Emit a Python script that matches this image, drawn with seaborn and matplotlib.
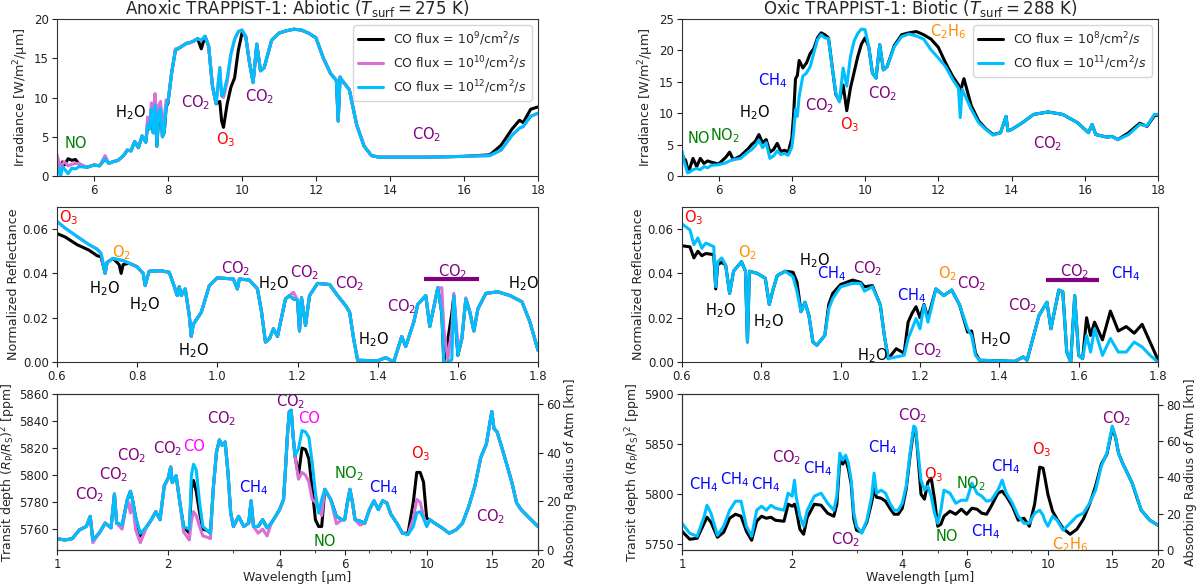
import matplotlib
matplotlib.use("Agg")
import matplotlib.pyplot as plt
from matplotlib.ticker import NullFormatter
import seaborn as sns

# ---------------- data ----------------
# top-left: anoxic emission spectrum, irradiance
ir_ax_wl = [5.0, 5.05, 5.1, 5.15, 5.2, 5.3, 5.4, 5.5, 5.6, 5.8,
            6.0, 6.15, 6.3, 6.4, 6.5, 6.65, 6.8, 6.9, 7.0, 7.1,
            7.2, 7.3, 7.4, 7.45, 7.5, 7.55, 7.6, 7.65, 7.7, 7.75,
            7.8, 7.85, 7.9, 7.95, 8.0, 8.1, 8.2, 8.3, 8.4, 8.5,
            8.6, 8.7, 8.8, 8.9, 9.0, 9.1, 9.2, 9.3, 9.4, 9.45,
            9.5, 9.6, 9.7, 9.8, 9.9, 10.0, 10.1, 10.2, 10.3, 10.4,
            10.5, 10.6, 10.8, 11.0, 11.2, 11.4, 11.6, 11.8, 12.0, 12.2,
            12.4, 12.55, 12.6, 12.65, 12.7, 12.9, 13.1, 13.3, 13.5, 13.7,
            14.0, 15.0, 16.0, 16.7, 17.0, 17.3, 17.5, 17.6, 17.8, 18.0]
ir_ax_co9 = [2.3, 1.6, 1.0, 1.8, 1.4, 2.2, 2.0, 2.1, 1.5, 1.1,
             1.4, 1.3, 2.2, 1.6, 1.8, 2.0, 2.6, 3.3, 3.2, 4.4,
             3.6, 5.1, 4.3, 6.5, 6.0, 8.5, 5.5, 9.0, 3.8, 7.8,
             8.6, 5.0, 5.6, 8.8, 9.3, 13.2, 16.0, 16.3, 16.6, 16.9,
             17.0, 17.2, 17.5, 16.2, 17.8, 16.5, 11.5, 9.2, 9.5, 7.0,
             6.2, 9.2, 11.3, 12.5, 16.0, 18.2, 17.8, 14.5, 11.9, 16.8,
             13.4, 13.8, 17.3, 18.2, 18.5, 18.7, 18.6, 18.2, 17.6, 15.0,
             13.0, 12.2, 7.0, 12.6, 12.2, 11.0, 6.5, 3.8, 2.6, 2.4,
             2.4, 2.4, 2.5, 2.7, 3.9, 6.0, 7.1, 6.8, 8.5, 8.8]
ir_ax_co10 = [2.7, 1.8, 0.6, 1.6, 1.8, 1.3, 1.5, 1.6, 1.6, 1.1,
              1.4, 1.3, 2.6, 1.6, 1.8, 2.0, 2.6, 3.3, 3.2, 4.4,
              3.6, 5.1, 4.3, 7.5, 6.0, 9.3, 8.0, 10.5, 6.0, 9.0,
              9.5, 5.0, 7.5, 9.7, 9.5, 13.2, 16.2, 16.3, 16.6, 16.9,
              17.0, 17.2, 17.5, 17.3, 17.8, 16.5, 11.5, 9.2, 13.8, 10.2,
              10.0, 12.0, 15.5, 17.4, 18.4, 18.6, 17.8, 14.5, 11.9, 16.8,
              13.4, 13.8, 17.3, 18.2, 18.5, 18.7, 18.6, 18.2, 17.6, 15.0,
              13.0, 12.2, 7.0, 12.6, 12.2, 11.0, 6.5, 3.8, 2.6, 2.4,
              2.4, 2.4, 2.5, 2.6, 3.3, 5.2, 6.1, 6.3, 7.6, 8.0]
ir_ax_co12 = [1.5, 0.4, 0.0, 1.2, 0.9, 0.3, 1.0, 0.9, 1.2, 1.1,
              1.4, 1.3, 2.2, 1.6, 1.8, 2.0, 2.6, 3.3, 3.2, 4.4,
              3.6, 5.1, 4.3, 6.5, 6.0, 8.5, 5.5, 9.0, 3.8, 7.8,
              8.6, 5.0, 5.6, 8.8, 9.5, 13.2, 16.0, 16.3, 16.6, 16.9,
              17.0, 17.2, 17.5, 17.3, 17.8, 16.5, 11.5, 9.2, 13.8, 10.2,
              10.5, 12.5, 15.5, 17.4, 18.4, 18.6, 17.8, 14.5, 11.9, 16.8,
              13.4, 13.8, 17.3, 18.2, 18.5, 18.7, 18.6, 18.2, 17.6, 15.0,
              13.0, 12.2, 7.0, 12.6, 12.2, 11.0, 6.5, 3.8, 2.6, 2.4,
              2.4, 2.4, 2.5, 2.6, 3.3, 5.2, 6.1, 6.3, 7.6, 8.0]

# top-right: oxic emission spectrum, irradiance
ir_ox_wl = [5.0, 5.05, 5.1, 5.15, 5.2, 5.3, 5.4, 5.5, 5.6, 5.7,
            5.8, 6.0, 6.2, 6.3, 6.4, 6.6, 6.8, 6.9, 7.0, 7.1,
            7.2, 7.3, 7.4, 7.5, 7.6, 7.7, 7.8, 7.9, 8.0, 8.05,
            8.1, 8.15, 8.2, 8.3, 8.4, 8.5, 8.6, 8.7, 8.8, 8.9,
            9.0, 9.1, 9.2, 9.3, 9.4, 9.5, 9.6, 9.7, 9.8, 9.9,
            10.0, 10.1, 10.2, 10.3, 10.4, 10.5, 10.6, 10.8, 11.0, 11.2,
            11.4, 11.6, 11.8, 12.0, 12.2, 12.4, 12.55, 12.6, 12.65, 12.7,
            12.9, 13.1, 13.3, 13.5, 13.7, 13.85, 13.9, 14.0, 14.3, 14.6,
            15.0, 15.4, 15.8, 16.1, 16.2, 16.3, 16.6, 16.75, 16.9, 17.2,
            17.5, 17.7, 17.9, 18.0]
ir_ox_co8 = [3.5, 2.8, 2.5, 1.2, 1.0, 2.8, 1.5, 2.8, 2.0, 2.4,
             2.2, 1.9, 3.0, 3.8, 2.6, 3.2, 4.3, 5.0, 5.5, 6.6,
             5.3, 5.8, 3.8, 4.2, 5.2, 3.9, 4.1, 3.8, 6.0, 10.0,
             15.5, 16.0, 18.4, 17.2, 18.0, 19.5, 20.3, 22.0, 22.8, 22.5,
             22.0, 17.5, 13.0, 12.0, 14.5, 10.4, 14.0, 16.5, 19.0, 21.0,
             22.0, 20.6, 16.4, 15.6, 20.9, 16.9, 17.4, 20.8, 22.5, 22.8,
             23.0, 22.5, 21.8, 20.5, 18.0, 15.8, 14.5, 13.0, 14.5, 15.5,
             11.2, 8.8, 7.5, 6.6, 6.9, 9.5, 7.2, 7.4, 8.5, 9.8,
             10.2, 9.8, 8.5, 6.9, 8.2, 6.6, 6.2, 6.3, 5.8, 6.9,
             8.4, 7.9, 9.6, 9.7]
ir_ox_co11 = [4.0, 2.5, 1.5, 0.5, 0.6, 1.0, 1.2, 1.0, 1.5, 1.3,
              1.7, 1.8, 2.1, 2.4, 2.6, 2.8, 3.8, 4.2, 4.8, 5.7,
              4.5, 5.3, 2.8, 3.2, 4.0, 3.4, 3.6, 3.3, 4.6, 7.0,
              10.6, 9.5, 12.7, 15.9, 16.4, 17.4, 19.6, 21.7, 22.5, 22.0,
              21.9, 17.4, 13.2, 11.8, 17.2, 14.3, 19.0, 21.5, 22.7, 23.4,
              23.3, 20.6, 16.4, 15.6, 20.9, 16.9, 17.4, 20.6, 22.2, 22.6,
              22.3, 21.8, 20.1, 18.8, 17.4, 15.3, 14.0, 9.3, 13.8, 13.2,
              10.6, 8.5, 7.4, 6.5, 6.9, 9.5, 7.2, 7.4, 8.5, 9.8,
              10.2, 9.8, 8.5, 6.9, 8.2, 6.6, 6.2, 6.3, 5.8, 6.6,
              8.2, 8.0, 9.8, 9.8]

# middle-left: anoxic reflectance
rf_ax_wl = [0.60, 0.62, 0.65, 0.68, 0.70, 0.71, 0.72, 0.725, 0.74, 0.755,
            0.76, 0.765, 0.78, 0.80, 0.815, 0.82, 0.825, 0.83, 0.86, 0.88,
            0.89, 0.90, 0.905, 0.91, 0.92, 0.93, 0.935, 0.94, 0.96, 0.98,
            1.00, 1.04, 1.05, 1.055, 1.08, 1.10, 1.11, 1.12, 1.13, 1.14,
            1.15, 1.17, 1.18, 1.19, 1.20, 1.205, 1.21, 1.22, 1.23, 1.25,
            1.28, 1.30, 1.32, 1.33, 1.34, 1.35, 1.40, 1.42, 1.44, 1.46,
            1.47, 1.49, 1.50, 1.52, 1.53, 1.55, 1.56, 1.565, 1.575, 1.585,
            1.59, 1.60, 1.61, 1.62, 1.63, 1.64, 1.65, 1.67, 1.70, 1.73,
            1.76, 1.78, 1.80]
rf_ax_co9 = [0.0580, 0.0565, 0.0530, 0.0505, 0.0480, 0.0475, 0.0400, 0.0450, 0.0468, 0.0440,
             0.0400, 0.0440, 0.0446, 0.0430, 0.0400, 0.0345, 0.0380, 0.0410, 0.0412, 0.0405,
             0.0355, 0.0300, 0.0340, 0.0300, 0.0330, 0.0210, 0.0115, 0.0170, 0.0225, 0.0345,
             0.0380, 0.0375, 0.0330, 0.0375, 0.0370, 0.0330, 0.0230, 0.0090, 0.0105, 0.0150,
             0.0115, 0.0285, 0.0300, 0.0285, 0.0280, 0.0140, 0.0290, 0.0165, 0.0300, 0.0355,
             0.0350, 0.0300, 0.0255, 0.0225, 0.0105, 0.0008, 0.0005, 0.0020, 0.0000, 0.0115,
             0.0070, 0.0180, 0.0260, 0.0300, 0.0160, 0.0335, 0.0220, 0.0000, 0.0100, 0.0220,
             0.0300, 0.0030, 0.0105, 0.0285, 0.0225, 0.0140, 0.0240, 0.0310, 0.0317, 0.0300,
             0.0272, 0.0180, 0.0053]
rf_ax_co10 = [0.0635, 0.0605, 0.0567, 0.0530, 0.0510, 0.0490, 0.0400, 0.0450, 0.0468, 0.0462,
              0.0460, 0.0458, 0.0446, 0.0430, 0.0400, 0.0345, 0.0380, 0.0410, 0.0412, 0.0405,
              0.0355, 0.0300, 0.0340, 0.0300, 0.0330, 0.0210, 0.0115, 0.0170, 0.0225, 0.0345,
              0.0380, 0.0375, 0.0330, 0.0375, 0.0370, 0.0330, 0.0230, 0.0090, 0.0105, 0.0150,
              0.0115, 0.0285, 0.0300, 0.0315, 0.0280, 0.0140, 0.0290, 0.0165, 0.0300, 0.0355,
              0.0350, 0.0300, 0.0255, 0.0225, 0.0105, 0.0008, 0.0005, 0.0020, 0.0000, 0.0115,
              0.0070, 0.0180, 0.0260, 0.0300, 0.0160, 0.0335, 0.0335, 0.0150, 0.0010, 0.0150,
              0.0310, 0.0080, 0.0105, 0.0290, 0.0225, 0.0140, 0.0240, 0.0310, 0.0317, 0.0300,
              0.0272, 0.0180, 0.0053]
rf_ax_co12 = [0.0635, 0.0605, 0.0567, 0.0530, 0.0510, 0.0490, 0.0400, 0.0450, 0.0468, 0.0462,
              0.0460, 0.0458, 0.0446, 0.0430, 0.0400, 0.0345, 0.0380, 0.0410, 0.0412, 0.0405,
              0.0355, 0.0300, 0.0340, 0.0300, 0.0330, 0.0210, 0.0115, 0.0170, 0.0225, 0.0345,
              0.0380, 0.0375, 0.0330, 0.0375, 0.0370, 0.0330, 0.0230, 0.0090, 0.0105, 0.0150,
              0.0115, 0.0285, 0.0300, 0.0285, 0.0280, 0.0140, 0.0290, 0.0165, 0.0300, 0.0355,
              0.0350, 0.0300, 0.0255, 0.0225, 0.0105, 0.0008, 0.0005, 0.0020, 0.0000, 0.0115,
              0.0070, 0.0180, 0.0260, 0.0300, 0.0160, 0.0335, 0.0220, 0.0000, 0.0000, 0.0010,
              0.0300, 0.0030, 0.0105, 0.0285, 0.0225, 0.0140, 0.0240, 0.0310, 0.0317, 0.0300,
              0.0272, 0.0180, 0.0053]

# middle-right: oxic reflectance
rf_ox_wl = [0.60, 0.62, 0.63, 0.64, 0.65, 0.66, 0.68, 0.685, 0.69, 0.70,
            0.71, 0.72, 0.73, 0.75, 0.76, 0.765, 0.77, 0.79, 0.81, 0.82,
            0.83, 0.84, 0.86, 0.88, 0.89, 0.90, 0.91, 0.92, 0.93, 0.94,
            0.96, 0.97, 0.98, 1.00, 1.03, 1.05, 1.06, 1.08, 1.10, 1.11,
            1.12, 1.14, 1.16, 1.17, 1.18, 1.19, 1.20, 1.21, 1.22, 1.24,
            1.26, 1.28, 1.30, 1.32, 1.33, 1.34, 1.35, 1.44, 1.46, 1.47,
            1.50, 1.51, 1.52, 1.53, 1.55, 1.56, 1.57, 1.58, 1.59, 1.60,
            1.61, 1.62, 1.63, 1.64, 1.66, 1.68, 1.70, 1.72, 1.74, 1.76,
            1.78, 1.80]
rf_ox_co8 = [0.0525, 0.0520, 0.0470, 0.0500, 0.0480, 0.0490, 0.0485, 0.0330, 0.0440, 0.0450,
             0.0438, 0.0310, 0.0410, 0.0453, 0.0410, 0.0090, 0.0410, 0.0400, 0.0378, 0.0260,
             0.0330, 0.0390, 0.0410, 0.0405, 0.0360, 0.0227, 0.0270, 0.0210, 0.0090, 0.0076,
             0.0120, 0.0260, 0.0310, 0.0350, 0.0370, 0.0360, 0.0340, 0.0345, 0.0257, 0.0120,
             0.0015, 0.0060, 0.0040, 0.0180, 0.0220, 0.0250, 0.0200, 0.0260, 0.0200, 0.0330,
             0.0300, 0.0325, 0.0257, 0.0135, 0.0140, 0.0040, 0.0008, 0.0003, 0.0023, 0.0008,
             0.0210, 0.0240, 0.0270, 0.0150, 0.0325, 0.0317, 0.0045, 0.0000, 0.0300, 0.0030,
             0.0015, 0.0200, 0.0120, 0.0180, 0.0100, 0.0230, 0.0140, 0.0160, 0.0130, 0.0170,
             0.0090, 0.0010]
rf_ox_co11 = [0.0623, 0.0597, 0.0530, 0.0560, 0.0514, 0.0537, 0.0521, 0.0340, 0.0453, 0.0470,
              0.0438, 0.0310, 0.0410, 0.0453, 0.0410, 0.0090, 0.0410, 0.0400, 0.0378, 0.0260,
              0.0330, 0.0390, 0.0410, 0.0385, 0.0317, 0.0227, 0.0270, 0.0210, 0.0090, 0.0076,
              0.0120, 0.0240, 0.0287, 0.0340, 0.0355, 0.0355, 0.0320, 0.0340, 0.0257, 0.0120,
              0.0015, 0.0023, 0.0030, 0.0106, 0.0150, 0.0196, 0.0150, 0.0257, 0.0180, 0.0330,
              0.0300, 0.0325, 0.0257, 0.0150, 0.0120, 0.0030, 0.0008, 0.0003, 0.0023, 0.0008,
              0.0210, 0.0240, 0.0270, 0.0150, 0.0325, 0.0317, 0.0045, 0.0000, 0.0300, 0.0030,
              0.0015, 0.0120, 0.0045, 0.0150, 0.0030, 0.0106, 0.0045, 0.0045, 0.0090, 0.0068,
              0.0030, 0.0000]

# bottom-left: anoxic transit depth (ppm)
tr_ax_wl = [1.0, 1.05, 1.1, 1.15, 1.2, 1.23, 1.25, 1.3, 1.35, 1.4,
            1.43, 1.45, 1.5, 1.55, 1.58, 1.6, 1.63, 1.68, 1.75, 1.8,
            1.85, 1.9, 1.95, 2.0, 2.03, 2.05, 2.1, 2.15, 2.2, 2.28,
            2.31, 2.34, 2.38, 2.43, 2.48, 2.55, 2.6, 2.65, 2.7, 2.75,
            2.8, 2.85, 2.9, 2.95, 3.0, 3.1, 3.2, 3.3, 3.35, 3.4,
            3.5, 3.6, 3.7, 3.8, 3.9, 4.0, 4.1, 4.15, 4.2, 4.25,
            4.3, 4.35, 4.4, 4.5, 4.6, 4.7, 4.8, 4.9, 5.0, 5.1,
            5.2, 5.3, 5.5, 5.7, 5.9, 6.0, 6.1, 6.2, 6.3, 6.4,
            6.6, 6.8, 7.0, 7.2, 7.4, 7.6, 7.8, 8.0, 8.3, 8.6,
            8.9, 9.2, 9.4, 9.6, 9.8, 10.0, 10.2, 10.5, 11.0, 11.5,
            12.0, 12.5, 13.0, 13.5, 14.0, 14.5, 15.0, 15.2, 15.5, 16.0,
            16.5, 17.0, 17.5, 18.0, 19.0, 20.0]
tr_ax_co9 = [5753, 5752, 5753, 5759.5, 5762, 5769.5, 5752, 5757, 5764.5, 5761,
             5786, 5764.5, 5763, 5782, 5788, 5782, 5769.5, 5755, 5762, 5767,
             5773, 5767, 5792, 5798, 5806, 5794.5, 5799.5, 5779.5, 5762, 5757,
             5790, 5796, 5788, 5772, 5760, 5759, 5757, 5792, 5817, 5826,
             5822, 5824.5, 5802, 5772, 5762, 5769.5, 5762, 5764.5, 5781, 5762,
             5762, 5767, 5761, 5764.5, 5769.5, 5774.5, 5782, 5804.5, 5829.5, 5847,
             5848, 5829.5, 5814.5, 5800, 5820, 5819, 5812, 5790, 5767, 5762,
             5762, 5789.5, 5782, 5769.5, 5767, 5767, 5779.5, 5789.5, 5779.5, 5767,
             5766, 5764.5, 5774.5, 5781, 5774.5, 5781, 5779.5, 5771, 5764.5, 5757,
             5757, 5780, 5802, 5802, 5795, 5768, 5767, 5764.5, 5761, 5757,
             5759.5, 5764.5, 5777, 5792, 5813, 5823, 5847, 5834.5, 5832, 5819.5,
             5807, 5794.5, 5779.5, 5774.5, 5768, 5762]
tr_ax_co10 = [5753, 5752, 5753, 5759.5, 5762, 5769.5, 5750, 5757, 5764.5, 5761,
              5786, 5764.5, 5760, 5782, 5772, 5782, 5760, 5750, 5762, 5767,
              5773, 5767, 5792, 5798, 5806, 5794.5, 5799.5, 5779.5, 5758, 5752,
              5766, 5773, 5770, 5762, 5755, 5754, 5753, 5792, 5817, 5826,
              5822, 5824.5, 5802, 5772, 5762, 5769.5, 5762, 5764.5, 5781, 5762,
              5757, 5760, 5755, 5764.5, 5769.5, 5774.5, 5782, 5804.5, 5829.5, 5847,
              5848, 5829.5, 5814.5, 5797, 5802, 5800, 5795, 5782, 5780, 5775,
              5770, 5789.5, 5782, 5764, 5767, 5767, 5779.5, 5789.5, 5779.5, 5767,
              5763, 5764.5, 5774.5, 5781, 5774.5, 5781, 5779.5, 5771, 5764.5, 5757,
              5756, 5768, 5782, 5780, 5770, 5762, 5767, 5764.5, 5761, 5757,
              5759.5, 5764.5, 5777, 5792, 5813, 5823, 5847, 5834.5, 5832, 5819.5,
              5807, 5794.5, 5779.5, 5774.5, 5768, 5762]
tr_ax_co12 = [5753, 5752, 5753, 5759.5, 5762, 5769.5, 5752, 5757, 5764.5, 5761,
              5786, 5764.5, 5763, 5782, 5788, 5782, 5769.5, 5757, 5762, 5767,
              5773, 5767, 5792, 5798, 5806, 5794.5, 5799.5, 5779.5, 5762, 5760,
              5800, 5808, 5804, 5780, 5762, 5759, 5757, 5792, 5817, 5826,
              5822, 5824.5, 5802, 5772, 5762, 5769.5, 5762, 5764.5, 5781, 5762,
              5762, 5767, 5761, 5764.5, 5769.5, 5774.5, 5782, 5804.5, 5829.5, 5847,
              5848, 5829.5, 5814.5, 5819.5, 5833, 5832, 5828, 5809.5, 5787, 5772,
              5782, 5789.5, 5782, 5769.5, 5767, 5767, 5779.5, 5789.5, 5779.5, 5767,
              5766, 5764.5, 5774.5, 5781, 5774.5, 5781, 5779.5, 5771, 5764.5, 5757,
              5756, 5762, 5772, 5773, 5768, 5762, 5767, 5764.5, 5761, 5757,
              5759.5, 5764.5, 5777, 5792, 5813, 5823, 5847, 5834.5, 5832, 5819.5,
              5807, 5794.5, 5779.5, 5774.5, 5768, 5762]

# bottom-right: oxic transit depth (ppm)
tr_ox_wl = [1.0, 1.05, 1.1, 1.15, 1.17, 1.2, 1.25, 1.3, 1.35, 1.4,
            1.45, 1.5, 1.55, 1.6, 1.65, 1.7, 1.75, 1.8, 1.9, 1.95,
            2.0, 2.03, 2.05, 2.1, 2.15, 2.2, 2.3, 2.4, 2.5, 2.6,
            2.65, 2.7, 2.75, 2.8, 2.85, 2.9, 2.95, 3.0, 3.1, 3.2,
            3.3, 3.35, 3.4, 3.5, 3.6, 3.7, 3.8, 3.9, 4.0, 4.1,
            4.2, 4.3, 4.35, 4.4, 4.5, 4.6, 4.7, 4.8, 4.9, 5.0,
            5.1, 5.2, 5.4, 5.6, 5.8, 6.0, 6.2, 6.4, 6.6, 6.8,
            7.0, 7.3, 7.5, 7.7, 8.0, 8.3, 8.6, 8.9, 9.2, 9.5,
            9.7, 9.8, 10.0, 10.3, 10.6, 11.0, 11.5, 12.0, 12.5, 13.0,
            13.5, 14.0, 14.5, 15.0, 15.3, 15.6, 16.0, 16.5, 17.0, 17.5,
            18.0, 19.0, 20.0]
tr_ox_co8 = [5763, 5755, 5756, 5771, 5777, 5772, 5757, 5762, 5776, 5780,
             5778, 5763, 5754, 5773, 5778, 5776, 5777, 5774, 5773, 5790,
             5788, 5790, 5785, 5765, 5760, 5777, 5790, 5789, 5781, 5778,
             5790, 5834, 5830, 5835, 5825, 5810, 5775, 5764, 5762, 5772,
             5792, 5805, 5797, 5796, 5793, 5786, 5780, 5780, 5786, 5805,
             5838, 5865, 5864, 5845, 5800, 5795, 5812, 5816, 5795, 5768,
             5770, 5778, 5783, 5780, 5785, 5780, 5786, 5785, 5781, 5780,
             5788, 5801, 5803, 5798, 5788, 5774, 5776, 5768, 5790, 5827,
             5826, 5818, 5800, 5783, 5775, 5766, 5760, 5765, 5775, 5790,
             5808, 5830, 5840, 5866, 5857, 5841, 5831, 5821, 5811, 5797,
             5784, 5774, 5769]
tr_ox_co11 = [5771, 5761, 5758, 5778, 5789, 5781, 5759, 5768, 5784, 5793,
              5793, 5768, 5758, 5784, 5788, 5784, 5789, 5786, 5784, 5801,
              5798, 5814, 5798, 5778, 5768, 5784, 5798, 5801, 5791, 5784,
              5798, 5841, 5834, 5839, 5831, 5814, 5781, 5768, 5761, 5774,
              5798, 5821, 5801, 5804, 5801, 5791, 5784, 5784, 5791, 5808,
              5841, 5868, 5866, 5848, 5814, 5804, 5808, 5798, 5781, 5771,
              5784, 5804, 5801, 5791, 5794, 5794, 5811, 5801, 5798, 5793,
              5794, 5804, 5814, 5801, 5791, 5778, 5771, 5771, 5781, 5784,
              5779, 5774, 5768, 5778, 5774, 5764, 5771, 5778, 5781, 5791,
              5804, 5828, 5841, 5868, 5858, 5841, 5831, 5821, 5811, 5798,
              5784, 5774, 5769]

# molecule labels: (text, x, y, colour)
lab_ir_ax = [("NO", 5.5, 4.2, "green"), ("H$_2$O", 6.98, 8.1, "black"),
             ("CO$_2$", 8.76, 9.3, "purple"), ("O$_3$", 9.56, 4.6, "red"),
             ("CO$_2$", 10.47, 10.1, "purple"), ("CO$_2$", 14.98, 5.3, "purple")]
lab_ir_ox = [("NO", 5.46, 5.9, "green"), ("NO$_2$", 6.17, 6.4, "green"),
             ("H$_2$O", 6.98, 10.1, "black"), ("CH$_4$", 7.48, 15.2, "blue"),
             ("CO$_2$", 8.77, 11.2, "purple"), ("O$_3$", 9.59, 8.2, "red"),
             ("CO$_2$", 10.49, 13.1, "purple"), ("C$_2$H$_6$", 12.28, 23.0, "darkorange"),
             ("CO$_2$", 14.98, 5.2, "purple")]
lab_rf_ax = [("O$_3$", 0.629, 0.065, "red"), ("O$_2$", 0.762, 0.0496, "darkorange"),
             ("H$_2$O", 0.718, 0.0332, "black"), ("H$_2$O", 0.819, 0.0257, "black"),
             ("H$_2$O", 0.94, 0.0053, "black"), ("CO$_2$", 1.045, 0.042, "purple"),
             ("H$_2$O", 1.14, 0.0355, "black"), ("CO$_2$", 1.219, 0.0405, "purple"),
             ("CO$_2$", 1.329, 0.0355, "purple"), ("H$_2$O", 1.39, 0.0103, "black"),
             ("CO$_2$", 1.459, 0.025, "purple"), ("CO$_2$", 1.588, 0.041, "purple"),
             ("H$_2$O", 1.764, 0.0355, "black")]
lab_rf_ox = [("O$_3$", 0.629, 0.0653, "red"), ("O$_2$", 0.764, 0.0496, "darkorange"),
             ("H$_2$O", 0.698, 0.0234, "black"), ("H$_2$O", 0.819, 0.018, "black"),
             ("H$_2$O", 0.935, 0.0456, "black"), ("CH$_4$", 0.976, 0.040, "blue"),
             ("CO$_2$", 1.069, 0.042, "purple"), ("H$_2$O", 1.079, 0.003, "black"),
             ("CH$_4$", 1.18, 0.030, "blue"), ("CO$_2$", 1.219, 0.0053, "purple"),
             ("O$_2$", 1.269, 0.040, "darkorange"), ("CO$_2$", 1.329, 0.0355, "purple"),
             ("H$_2$O", 1.39, 0.0103, "black"), ("CO$_2$", 1.46, 0.0254, "purple"),
             ("CO$_2$", 1.59, 0.041, "purple"), ("CH$_4$", 1.719, 0.040, "blue")]
lab_tr_ax = [("CO$_2$", 1.224, 5785.8, "purple"), ("CO$_2$", 1.425, 5800, "purple"),
             ("CO$_2$", 1.59, 5814.5, "purple"), ("CO$_2$", 1.987, 5819.5, "purple"),
             ("CO", 2.353, 5820.8, "magenta"), ("CO$_2$", 2.793, 5842, "purple"),
             ("CH$_4$", 3.395, 5790.8, "blue"), ("CO$_2$", 4.283, 5854, "purple"),
             ("CO", 4.80, 5842, "magenta"), ("NO", 5.306, 5750.8, "green"),
             ("NO$_2$", 6.166, 5800.8, "green"), ("CH$_4$", 7.67, 5790.8, "blue"),
             ("O$_3$", 9.61, 5815.8, "red"), ("CO$_2$", 14.93, 5769, "purple")]
lab_tr_ox = [("CH$_4$", 1.145, 5810, "blue"), ("CH$_4$", 1.395, 5815, "blue"),
             ("CH$_4$", 1.695, 5810, "blue"), ("CO$_2$", 1.936, 5836.7, "purple"),
             ("CH$_4$", 2.342, 5825, "blue"), ("CO$_2$", 2.793, 5755, "purple"),
             ("CH$_4$", 3.54, 5846, "blue"), ("CO$_2$", 4.266, 5878, "purple"),
             ("O$_3$", 4.884, 5820, "red"), ("NO", 5.283, 5757.7, "green"),
             ("NO$_2$", 6.166, 5811, "green"), ("CH$_4$", 6.78, 5762.7, "blue"),
             ("CH$_4$", 7.69, 5827.7, "blue"), ("O$_3$", 9.64, 5844.3, "red"),
             ("C$_2$H$_6$", 11.52, 5749.3, "darkorange"), ("CO$_2$", 15.4, 5875, "purple")]
# 1.6 um CO2 band bar: (x start, x end, y)
band_rf_ax = (1.516, 1.652, 0.0373)
band_rf_ox = (1.517, 1.652, 0.037)

# ---------------- style ----------------
sns.set_style("ticks")
plt.rcParams["font.family"] = ["DejaVu Sans"]
plt.rcParams["mathtext.fontset"] = "dejavusans"
plt.rcParams["axes.edgecolor"] = "#333333"
plt.rcParams["xtick.color"] = "#222222"
plt.rcParams["ytick.color"] = "#222222"

C_BLACK = "black"
C_MID = "#DA70D6"
C_HIGH = "#00BFFF"
LW = 2.2
TICK_FS = 8.5
LAB_FS = 9.2
MOL_FS = 10.5

fig = plt.figure(figsize=(12, 5.85), dpi=100)
left_l, width_l = 57 / 1200, 481 / 1200
left_r, width_r = 682 / 1200, 476 / 1200
rows = [(1 - 176 / 585, 157 / 585), (1 - 362 / 585, 155 / 585), (1 - 550 / 585, 156 / 585)]

axes = {}
for r, (b, h) in enumerate(rows):
    axes[(r, 0)] = fig.add_axes([left_l, b, width_l, h])
    axes[(r, 1)] = fig.add_axes([left_r, b, width_r, h])


def draw(ax, wl, series):
    for vals, col, lab in series:
        sns.lineplot(x=wl, y=vals, ax=ax, color=col, linewidth=LW, label=lab,
                     sort=False, estimator=None)


def put_labels(ax, labels):
    for txt, x, y, col in labels:
        ax.text(x, y, txt, color=col, fontsize=MOL_FS, ha="center", va="center")


# --- top row: irradiance
ax = axes[(0, 0)]
draw(ax, ir_ax_wl, [(ir_ax_co9, C_BLACK, r"CO flux = 10$^{9}$/cm$^{2}$/$s$"),
                    (ir_ax_co10, C_MID, r"CO flux = 10$^{10}$/cm$^{2}$/$s$"),
                    (ir_ax_co12, C_HIGH, r"CO flux = 10$^{12}$/cm$^{2}$/$s$")])
ax.set_xlim(5, 18)
ax.set_ylim(0, 20)
ax.set_yticks([0, 5, 10, 15, 20])
ax.set_ylabel(r"Irradiance [W/m$^2$/µm]", fontsize=LAB_FS, labelpad=2)
ax.set_title(r"Anoxic TRAPPIST-1: Abiotic ($T_{\mathrm{surf}} = 275$ K)", fontsize=12, pad=1.5)
put_labels(ax, lab_ir_ax)
ax.legend(loc="upper right", fontsize=9)

ax = axes[(0, 1)]
draw(ax, ir_ox_wl, [(ir_ox_co8, C_BLACK, r"CO flux = 10$^{8}$/cm$^{2}$/$s$"),
                    (ir_ox_co11, C_HIGH, r"CO flux = 10$^{11}$/cm$^{2}$/$s$")])
ax.set_xlim(5, 18)
ax.set_ylim(0, 25)
ax.set_yticks([0, 5, 10, 15, 20, 25])
ax.set_ylabel(r"Irradiance [W/m$^2$/µm]", fontsize=LAB_FS, labelpad=2)
ax.set_title(r"Oxic TRAPPIST-1: Biotic ($T_{\mathrm{surf}} = 288$ K)", fontsize=12, pad=1.5)
put_labels(ax, lab_ir_ox)
ax.legend(loc="upper right", fontsize=9)

for c in (0, 1):
    axes[(0, c)].set_xticks([6, 8, 10, 12, 14, 16, 18])
    axes[(0, c)].set_xlabel("")

# --- middle row: reflectance
ax = axes[(1, 0)]
draw(ax, rf_ax_wl, [(rf_ax_co9, C_BLACK, None), (rf_ax_co10, C_MID, None),
                    (rf_ax_co12, C_HIGH, None)])
put_labels(ax, lab_rf_ax)
ax.hlines(band_rf_ax[2], band_rf_ax[0], band_rf_ax[1], color="purple", linewidth=3)

ax = axes[(1, 1)]
draw(ax, rf_ox_wl, [(rf_ox_co8, C_BLACK, None), (rf_ox_co11, C_HIGH, None)])
put_labels(ax, lab_rf_ox)
ax.hlines(band_rf_ox[2], band_rf_ox[0], band_rf_ox[1], color="purple", linewidth=3)

for c in (0, 1):
    a = axes[(1, c)]
    a.set_xlim(0.6, 1.8)
    a.set_ylim(0, 0.07)
    a.set_xticks([0.6, 0.8, 1.0, 1.2, 1.4, 1.6, 1.8])
    a.set_yticks([0.0, 0.02, 0.04, 0.06])
    a.set_yticklabels(["0.00", "0.02", "0.04", "0.06"])
    a.set_ylabel("Normalized Reflectance", fontsize=LAB_FS, labelpad=2)
    a.set_xlabel("")

# --- bottom row: transit depth
ax = axes[(2, 0)]
draw(ax, tr_ax_wl, [(tr_ax_co9, C_BLACK, None), (tr_ax_co10, C_MID, None),
                    (tr_ax_co12, C_HIGH, None)])
put_labels(ax, lab_tr_ax)
ax.set_ylim(5744.6, 5860)
ax.set_yticks([5760, 5780, 5800, 5820, 5840, 5860])
tw = ax.twinx()
tw.set_ylim(0, 64.1)
tw.set_yticks([0, 20, 40, 60])
tw.set_ylabel("Absorbing Radius of Atm [km]", fontsize=9, labelpad=2)
tw.tick_params(labelsize=TICK_FS, pad=2.5)

ax = axes[(2, 1)]
draw(ax, tr_ox_wl, [(tr_ox_co8, C_BLACK, None), (tr_ox_co11, C_HIGH, None)])
put_labels(ax, lab_tr_ox)
ax.set_ylim(5744.3, 5900)
ax.set_yticks([5750, 5800, 5850, 5900])
tw = ax.twinx()
tw.set_ylim(0, 85.9)
tw.set_yticks([0, 20, 40, 60, 80])
tw.set_ylabel("Absorbing Radius of Atm [km]", fontsize=9, labelpad=2)
tw.tick_params(labelsize=TICK_FS, pad=2.5)

for c in (0, 1):
    a = axes[(2, c)]
    a.set_xscale("log")
    a.set_xlim(1, 20)
    a.set_xticks([1, 2, 4, 6, 10, 15, 20])
    a.set_xticklabels(["1", "2", "4", "6", "10", "15", "20"])
    a.xaxis.set_minor_formatter(NullFormatter())
    a.set_xlabel("Wavelength [µm]", fontsize=9, labelpad=0)
    a.set_ylabel(r"Transit depth $(R_\mathrm{P}/R_\mathrm{S})^2$ [ppm]", fontsize=9,
                 labelpad=1)

for a in axes.values():
    a.tick_params(labelsize=TICK_FS, pad=2.5)

fig.savefig("out.png", dpi=100)
